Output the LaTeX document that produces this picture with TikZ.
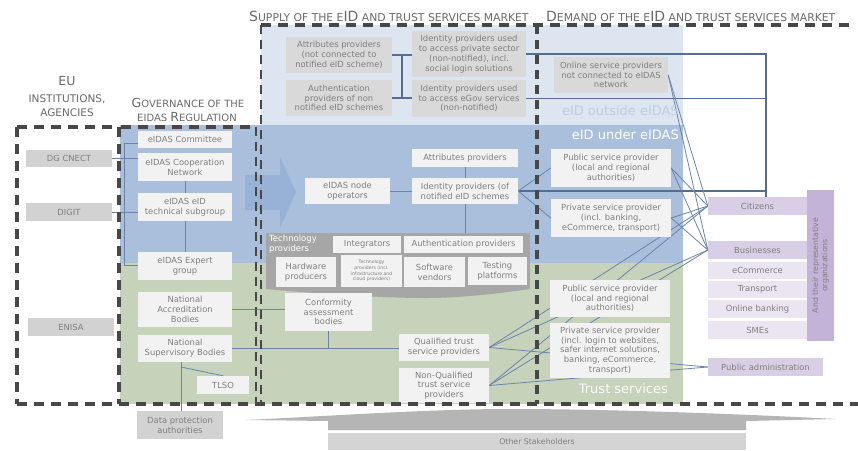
\documentclass[tikz,border=0pt]{standalone}
\usepackage{fontspec}
\setmainfont{DejaVu Sans}
\usetikzlibrary{calc}
\pgfdeclarelayer{bg}
\pgfdeclarelayer{wires}
\pgfsetlayers{bg,wires,main}

\definecolor{ltblue}{HTML}{DCE5F0}
\definecolor{mdblue}{HTML}{AABFDC}
\definecolor{arrowblue}{HTML}{98B1D6}
\definecolor{grn}{HTML}{C6D2BA}
\definecolor{boxwhite}{HTML}{F2F2F2}
\definecolor{boxgray}{HTML}{D9D9D9}
\definecolor{eugray}{HTML}{D2D2D2}
\definecolor{techgray}{HTML}{A6A6A6}
\definecolor{txtgray}{HTML}{7F7F7F}
\definecolor{titlegray}{HTML}{6A6A6A}
\definecolor{border}{HTML}{474747}
\definecolor{linkblue}{HTML}{6A84AA}
\definecolor{railblue}{HTML}{566D92}
\definecolor{purpA}{HTML}{D8CFE6}
\definecolor{purpB}{HTML}{EAE5F1}
\definecolor{purpC}{HTML}{C3B3D9}
\definecolor{outsidetxt}{HTML}{BCCDE6}
\definecolor{stakegray}{HTML}{B5B5B5}
\definecolor{stakebar}{HTML}{D4D4D4}

% type sizes for the small-caps headings
\newcommand\tcapL{\fontsize{14}{16}\selectfont}
\newcommand\tcapS{\fontsize{10.8}{12}\selectfont}
\newcommand\gcapL{\fontsize{12.5}{14}\selectfont}
\newcommand\gcapS{\fontsize{10}{12}\selectfont}

\begin{document}
\begin{tikzpicture}[x=1pt,y=-1pt,
  base/.style={inner sep=1pt, align=center, text=txtgray, font=\fontsize{8.4}{9.8}\selectfont},
  wbox/.style={base, fill=boxwhite},
  gbox/.style={base, fill=boxgray},
  ebox/.style={base, fill=eugray},
  cbox/.style={base, fill=purpA},
  lbox/.style={base, fill=purpB},
  sz/.style 2 args={minimum width=#1, minimum height=#2},
  wire/.style={draw=linkblue, line width=0.8pt},
  rail/.style={draw=railblue, line width=1.2pt},
  title/.style={inner sep=0pt, text=titlegray},
  bordA/.style={draw=border, line width=3.2pt, dash pattern=on 10pt off 7pt},
  bordB/.style={draw=border, line width=2.2pt, dash pattern=on 9pt off 6pt},
  bordC/.style={draw=border, line width=4.2pt, dash pattern=on 9pt off 6pt},
  zone/.style={inner sep=0pt, font=\fontsize{13}{15}\selectfont},
]
\useasboundingbox (0,0) rectangle (858,450);

% ---------- coloured zones ----------
\begin{pgfonlayer}{bg}
  \fill[white] (0,0) rectangle (858,450);
  \fill[ltblue] (261,25) rectangle (683,125);
  \fill[mdblue] (120,125) rectangle (683,263);
  \fill[grn] (120,263) rectangle (683,404);
  % flow arrow from governance into supply
  \fill[arrowblue] (245,175) -- (280,175) -- (280,157) -- (296,192)
        -- (280,228) -- (280,210) -- (245,210) -- cycle;
  % other stakeholders base
  \fill[stakegray] (246,420) .. controls (330,416) and (430,409) .. (510,409)
        .. controls (620,409) and (760,415) .. (836,419)
        -- (746,421) -- (746,430) -- (328,430) -- (328,421) -- cycle;
\end{pgfonlayer}

% ---------- headings ----------
\node[title] (eu1) at (67,81) {\fontsize{12.5}{14}\selectfont EU};
\node[title] (eu2) at (67,99) {\fontsize{10.5}{12}\selectfont INSTITUTIONS,};
\node[title] (eu3) at (67,113) {\fontsize{10.5}{12}\selectfont AGENCIES};
\node[title] (gov1) at (188,103) {{\gcapL G}{\gcapS OVERNANCE OF THE}};
\node[title] (gov2) at (187,117) {{\gcapS EIDAS }{\gcapL R}{\gcapS EGULATION}};
\node[title, anchor=west] (suptitle) at (249,16)
  {{\tcapL S}{\tcapS UPPLY OF THE E}{\tcapL ID}{\tcapS{} AND TRUST SERVICES MARKET}};
\node[title, anchor=west] (demtitle) at (546,16)
  {{\tcapL D}{\tcapS EMAND OF THE E}{\tcapL ID}{\tcapS{} AND TRUST SERVICES MARKET}};

% ---------- EU institutions ----------
\node[ebox, sz={86pt}{17pt}] (dgcnect) at (69,158.5) {DG CNECT};
\node[ebox, sz={86pt}{18pt}] (digit) at (69,212) {DIGIT};
\node[ebox, sz={86pt}{18pt}] (enisa) at (71,327) {ENISA};
\node[ebox, sz={86pt}{28pt}] (dpa) at (180,425) {Data protection\\authorities};

% ---------- governance ----------
\node[wbox, sz={94pt}{17pt}] (committee) at (185,139.5) {eIDAS Committee};
\node[wbox, sz={94pt}{28pt}] (coop) at (185,167) {eIDAS Cooperation\\Network};
\node[wbox, sz={94pt}{28pt}] (techsub) at (185,207) {eIDAS eID\\technical subgroup};
\node[wbox, sz={94pt}{28pt}] (expert) at (185,266) {eIDAS Expert\\group};
\node[wbox, sz={94pt}{35pt}] (nab) at (185,309.5) {National\\Accreditation\\Bodies};
\node[wbox, sz={94pt}{27pt}] (nsb) at (185,348.5) {National\\Supervisory Bodies};
\node[wbox, sz={52pt}{18pt}] (tlso) at (223,385) {TLSO};

% ---------- supply: eID outside eIDAS ----------
\node[gbox, sz={106pt}{36pt}] (attrnc) at (339,55) {Attributes providers\\(not connected to\\notified eID scheme)};
\node[gbox, sz={106pt}{36pt}] (authnn) at (339,98) {Authentication\\providers of non\\notified eID schemes};
\node[gbox, sz={114pt}{46pt}] (idppriv) at (469,54) {Identity providers used\\to access private sector\\(non-notified), incl.\\social login solutions};
\node[gbox, sz={114pt}{37pt}] (idpgov) at (469,98.5) {Identity providers used\\to access eGov services\\(non-notified)};

% ---------- supply: eID under eIDAS ----------
\node[wbox, sz={85pt}{26pt}] (nodeop) at (347.5,191) {eIDAS node\\operators};
\node[wbox, sz={106pt}{18pt}] (attrn) at (465,158) {Attributes providers};
\node[wbox, sz={106pt}{26pt}] (idpn) at (465,191) {Identity providers (of\\notified eID schemes};

% technology providers group
\fill[techgray] (266,289) -- (530,289) .. controls (495,294) and (460,298) .. (425,298)
      .. controls (385,298) and (320,294) .. (266,289) -- cycle;
\node[fill=techgray, inner sep=0pt, sz={264pt}{56pt}] (techgrp) at (398,261) {};
\node[anchor=north west, inner sep=0pt, align=left, text=white,
      font=\fontsize{8.5}{10}\selectfont] (techlbl) at (269,235) {Technology\\providers};
\node[wbox, sz={68pt}{17pt}] (integr) at (367,244.5) {Integrators};
\node[wbox, sz={119pt}{17pt}] (authp) at (463.5,244.5) {Authentication providers};
\node[wbox, sz={60pt}{30pt}] (hw) at (306,272) {Hardware\\producers};
\node[wbox, sz={61pt}{32pt}, font=\fontsize{4.6}{5.6}\selectfont] (techprov) at (371.5,271)
  {Technology\\providers (incl.\\infrastructure and\\cloud providers)};
\node[wbox, sz={61pt}{30pt}] (softw) at (434.5,272) {Software\\vendors};
\node[wbox, sz={59pt}{28pt}] (testp) at (497.5,271) {Testing\\platforms};

% ---------- supply: trust services ----------
\node[wbox, sz={87pt}{38pt}] (conf) at (328.5,312) {Conformity\\assessment\\bodies};
\node[wbox, sz={90pt}{27pt}] (qtsp) at (444,347.5) {Qualified trust\\service providers};
\node[wbox, sz={90pt}{35pt}] (nqtsp) at (444,385.5) {Non-Qualified\\trust service\\providers};

% ---------- demand ----------
\node[gbox, sz={114pt}{36pt}] (online) at (611,75) {Online service providers\\not connected to eIDAS\\network};
\node[zone, anchor=east, text=outsidetxt] (outside) at (679,111) {eID outside eIDAS};
\node[zone, anchor=east, text=white] (under) at (679,135) {eID under eIDAS};
\node[wbox, sz={120pt}{38pt}] (pspe) at (611,168) {Public service provider\\(local and regional\\authorities)};
\node[wbox, sz={120pt}{38pt}] (prspe) at (611,218) {Private service provider\\(incl. banking,\\eCommerce, transport)};
\node[wbox, sz={120pt}{37pt}] (pspt) at (610,298.5) {Public service provider\\(local and regional\\authorities)};
\node[wbox, sz={120pt}{55pt}] (prspt) at (610,350.5) {Private service provider\\(incl. login to websites,\\safer internet solutions,\\banking, eCommerce,\\transport)};
\node[zone, anchor=east, text=white!92!grn] (trust) at (668,389) {Trust services};

% ---------- users ----------
\node[cbox, sz={99pt}{18pt}] (citizens) at (757.5,206) {Citizens};
\node[cbox, sz={99pt}{18pt}] (business) at (757.5,250) {Businesses};
\node[lbox, sz={99pt}{17pt}] (ecomm) at (757.5,270.5) {eCommerce};
\node[lbox, sz={99pt}{17pt}] (transp) at (757.5,289.5) {Transport};
\node[lbox, sz={99pt}{18pt}] (onlb) at (757.5,309) {Online banking};
\node[lbox, sz={99pt}{18pt}] (smes) at (757.5,330) {SMEs};
\node[base, fill=purpC, rotate=90, sz={151pt}{27pt}, font=\fontsize{7.8}{9.2}\selectfont] (repbar)
  at (820.5,265.5) {And their representative\\organizations};
\node[cbox, sz={115pt}{18pt}] (pubadm) at (765.5,367) {Public administration};

% ---------- other stakeholders ----------
\node[base, fill=stakebar, sz={418pt}{17pt}, font=\fontsize{7.8}{9}\selectfont] (stake) at (537,441.5) {Other Stakeholders};

% ---------- connectors ----------
\coordinate (brtop) at (124,143);
\coordinate (brbot) at (124,265);
\coordinate (dpj) at (181,367);
\coordinate (hbar) at (402,0);
\coordinate (railx) at (766,0);
\begin{pgfonlayer}{wires}
  \draw[wire] (dgcnect.east) -- (dgcnect.east -| coop.west);
  \draw[wire] (digit.east) -- (digit.east -| techsub.west);
  \draw[wire] (brtop -| committee.west) -- (brtop) -- (brbot) -- (brbot -| expert.west);
  \draw[wire] (coop.south) -- (techsub.north);
  \draw[wire] (techsub.south) -- (expert.north);
  \draw[wire] (nab.east) -- (nab.east -| conf.west);
  \draw[wire] (nsb.east) -- (nsb.east -| qtsp.west);
  \draw[wire] (conf.south) -- (conf.south |- nsb.east);
  \draw[wire] (nsb.south -| dpj) -- (dpa.north -| dpj);
  \draw[wire] (dpj) -- (tlso.north);

  \draw[rail] (attrnc.east) -- (attrnc.east -| idppriv.west);
  \draw[rail] (authnn.east) -- (authnn.east -| idpgov.west);
  \draw[rail] (attrnc.east -| hbar) -- (authnn.east -| hbar);
  \draw[rail] (idppriv.east) -- (idppriv.east -| railx) -- (railx |- citizens.north);
  \draw[rail] (idpgov.east) -- (idpgov.east -| railx);
  \draw[rail] (idpn.east) -- (idpn.east -| railx);

  \draw[wire] (nodeop.east) -- (idpn.west);
  \draw[wire] (attrn.south) -- (idpn.north);
  \draw[wire] (idpn.south) -- (idpn.south |- authp.north);
  \draw[wire] (idpn.east) -- (pspe.west);
  \draw[wire] (idpn.east) -- (prspe.west);

  \draw[wire] (online.east) -- (citizens.west);
  \draw[wire] (online.east) -- (business.west);
  \draw[wire] (pspe.east) -- (citizens.west);
  \draw[wire] (pspe.east) -- (business.west);
  \draw[wire] (prspe.east) -- (citizens.west);
  \draw[wire] (prspe.east) -- (business.west);
  \draw[wire] (qtsp.east) -- (citizens.west);
  \draw[wire] (qtsp.east) -- (business.west);
  \draw[wire] (qtsp.east) -- (pubadm.west);
  \draw[wire] (nqtsp.east) -- (citizens.west);
  \draw[wire] (nqtsp.east) -- (business.west);
  \draw[wire] (nqtsp.east) -- (pubadm.west);
\end{pgfonlayer}

% ---------- dashed frames ----------
\draw[bordA] (17,127) -- (119,127);
\draw[bordA] (17,127) -- (17,404);
\draw[bordA] (119,127) -- (119,404);
\draw[bordA] (121,127) -- (257,127);
\draw[bordB] (256,127) -- (256,404);
\draw[bordB] (261,25) -- (261,404);
\draw[bordA] (261,25) -- (855,25);
\draw[bordC] (537,25) -- (537,404);
\draw[bordA] (17,404) -- (858,404);
\end{tikzpicture}
\end{document}
